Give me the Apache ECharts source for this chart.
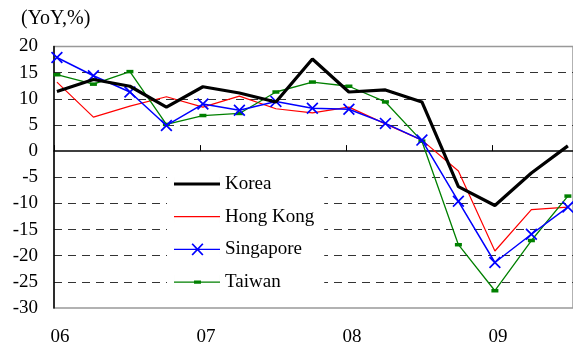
<!DOCTYPE html>
<html>
<head>
<meta charset="utf-8">
<script src="https://cdn.jsdelivr.net/npm/echarts@6/dist/echarts.min.js"></script>
<style>
html,body{margin:0;padding:0;background:#fff;}
#c{width:573px;height:347px;}
</style>
</head>
<body>
<div id="c"></div>
<script>
// Quarterly data, 2006Q1 .. 2009Q3
const quarters = [0,1,2,3,4,5,6,7,8,9,10,11,12,13,14];
const yearTicks = [-0.08, 3.92, 7.92, 11.92];
const yearLabels = ['06', '07', '08', '09'];
const korea     = [11.4, 13.7, 12.4, 8.4, 12.3, 11.1, 9.4, 17.6, 11.3, 11.7, 9.4, -6.8, -10.4, -4.2, 1.0];
const hongKong  = [13.2, 6.5, 8.6, 10.4, 8.4, 10.5, 8.1, 7.3, 8.4, 5.2, 2.1, -3.8, -19.1, -11.2, -10.7];
const singapore = [17.9, 14.4, 11.3, 4.9, 9.0, 7.8, 9.5, 8.2, 8.0, 5.3, 2.1, -9.6, -21.3, -15.9, -10.7];
const taiwan    = [14.6, 12.8, 15.2, 5.1, 6.8, 7.2, 11.3, 13.2, 12.4, 9.4, 1.9, -17.9, -26.7, -17.1, -8.6];
const seriesNames = ['Korea', 'Hong Kong', 'Singapore', 'Taiwan'];

const FONT = '"Liberation Serif", "Times New Roman", serif';
const pair = arr => quarters.map((q, i) => [q, arr[i]]);
const xMark = 'path://M0,1L1,0L10,9L9,10Z M9,0L10,1L1,10L0,9Z';

// legend icons (46 x 14 box)
const iconKorea = 'path://M0,0L0.01,0L0.01,14L0,14Z M0,5.5L46,5.5L46,8.5L0,8.5Z M45.99,0L46,0L46,14L45.99,14Z';
const iconHK = 'path://M0,0L0.01,0L0.01,14L0,14Z M0,6.4L46,6.4L46,7.6L0,7.6Z M45.99,0L46,0L46,14L45.99,14Z';
const iconSing = 'path://M0,0L0.01,0L0.01,14L0,14Z M0,6.3L46,6.3L46,7.7L0,7.7Z M17.5,1.8L18.8,0.8L29.5,12.2L28.2,13.2Z M28.2,0.8L29.5,1.8L18.8,13.2L17.5,12.2Z M45.99,0L46,0L46,14L45.99,14Z';
const iconTW = 'path://M0,0L0.01,0L0.01,14L0,14Z M0,6.4L46,6.4L46,7.6L0,7.6Z M20,5.3L27,5.3L27,8.7L20,8.7Z M45.99,0L46,0L46,14L45.99,14Z';

const chart = echarts.init(document.getElementById('c'), null, {renderer: 'canvas'});
const splitColors = ['transparent','#333','#333','#333','#333','#333','transparent','#333','#333','#333','transparent'];

chart.setOption({
  animation: false,
  backgroundColor: '#fff',
  textStyle: {fontFamily: FONT},
  graphic: [{
    type: 'text', left: 21, top: 9,
    style: {text: '(YoY,%)', font: '20px ' + FONT, fill: '#000'}
  }],
  grid: {left: 54, right: -2, top: 46.5, bottom: 37, show: true, borderColor: '#999', borderWidth: 1.5, backgroundColor: 'transparent'},
  xAxis: [{
    type: 'value', position: 'bottom', min: -0.08, max: 14.14,
    axisLine: {show: false, onZero: false},
    axisTick: {show: false},
    splitLine: {show: false},
    axisLabel: {
      show: true, customValues: yearTicks, margin: 20, fontSize: 19, color: '#000', fontFamily: FONT,
      padding: [0, 0, 0, 12],
      formatter: v => yearLabels[Math.round((v + 0.08) / 4)]
    }
  }, {
    type: 'value', position: 'top', min: -0.08, max: 14.14,
    axisLine: {show: true, onZero: true, lineStyle: {color: '#000', width: 1.5}},
    axisTick: {show: true, inside: false, length: 6, customValues: yearTicks, lineStyle: {color: '#000', width: 1}},
    axisLabel: {show: false},
    splitLine: {show: false}
  }],
  yAxis: {
    type: 'value', min: -30, max: 20, interval: 5,
    axisLine: {show: true, onZero: false, lineStyle: {color: '#000', width: 1.5}},
    axisTick: {show: false},
    axisLabel: {fontSize: 19, color: '#000', margin: 16, fontFamily: FONT},
    splitLine: {show: true, lineStyle: {color: splitColors, type: [8, 6], width: 1}}
  },
  legend: {
    orient: 'vertical', left: 167, top: 166,
    padding: [8, 10, 6, 7],
    backgroundColor: '#fff',
    itemWidth: 46, itemHeight: 14, itemGap: 12.7,
    textStyle: {fontSize: 19, color: '#000', fontFamily: FONT, lineHeight: 20},
    data: [
      {name: seriesNames[0], icon: iconKorea},
      {name: seriesNames[1], icon: iconHK},
      {name: seriesNames[2], icon: iconSing},
      {name: seriesNames[3], icon: iconTW}
    ]
  },
  series: [{
    name: seriesNames[0], type: 'line', data: pair(korea), xAxisIndex: 0,
    symbol: 'none', lineStyle: {color: '#000', width: 3.2}, itemStyle: {color: '#000'}, z: 5
  }, {
    name: seriesNames[1], type: 'line', data: pair(hongKong), xAxisIndex: 0,
    symbol: 'none', lineStyle: {color: '#ff0000', width: 1.2}, itemStyle: {color: '#ff0000'}, z: 3
  }, {
    name: seriesNames[2], type: 'line', data: pair(singapore), xAxisIndex: 0,
    symbol: xMark, symbolSize: 12, showSymbol: true,
    lineStyle: {color: '#0000ff', width: 1.5}, itemStyle: {color: '#0000ff'}, z: 4
  }, {
    name: seriesNames[3], type: 'line', data: pair(taiwan), xAxisIndex: 0,
    symbol: 'rect', symbolSize: [7, 3.5], showSymbol: true,
    lineStyle: {color: '#008000', width: 1.3}, itemStyle: {color: '#008000'}, z: 3
  }]
});
</script>
</body>
</html>
